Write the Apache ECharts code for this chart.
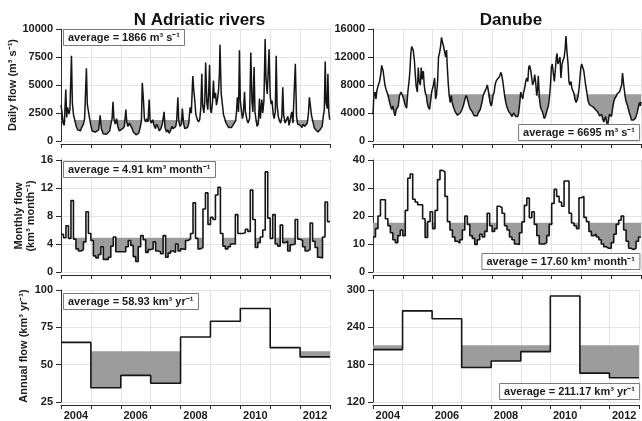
<!DOCTYPE html>
<html>
<head>
<meta charset="utf-8">
<script src="https://cdn.jsdelivr.net/npm/echarts@6/dist/echarts.min.js"></script>
<style>
html,body{margin:0;padding:0;background:#fff;}
#chart{width:642px;height:421px;}
</style>
</head>
<body>
<div id="chart"></div>
<script>
// ---------- DATA ----------
const years = [2004, 2005, 2006, 2007, 2008, 2009, 2010, 2011, 2012];

// Daily flow, N Adriatic rivers [decimal year, m3/s]
const adriaticDaily = [
[2004.00,3200],[2004.03,2600],[2004.07,1600],[2004.11,1400],[2004.16,4600],[2004.19,2100],[2004.22,3000],[2004.27,2400],[2004.30,2900],[2004.35,7600],[2004.38,3400],[2004.42,2300],[2004.47,1800],[2004.51,1300],[2004.56,1000],[2004.60,1100],[2004.65,900],[2004.69,1200],[2004.75,1500],[2004.79,2000],[2004.85,6500],[2004.88,3300],[2004.92,2600],[2004.95,2100],[2004.99,1500],
[2005.04,900],[2005.09,750],[2005.15,800],[2005.21,700],[2005.26,1000],[2005.31,2300],[2005.35,1100],[2005.41,650],[2005.46,550],[2005.52,600],[2005.57,550],[2005.63,900],[2005.67,1500],[2005.71,2000],[2005.74,3500],[2005.77,2000],[2005.82,1500],[2005.86,2000],[2005.91,1200],[2005.95,900],
[2006.01,1000],[2006.06,1100],[2006.12,1300],[2006.17,2800],[2006.20,1700],[2006.24,1300],[2006.29,1600],[2006.33,1500],[2006.38,1100],[2006.42,800],[2006.47,700],[2006.51,550],[2006.56,450],[2006.60,700],[2006.65,1200],[2006.69,1800],[2006.72,5200],[2006.76,3600],[2006.79,2000],[2006.83,1700],[2006.88,2000],[2006.91,1700],[2006.95,3700],[2006.98,1900],
[2007.02,1600],[2007.07,1900],[2007.11,1400],[2007.16,1100],[2007.20,1500],[2007.25,1200],[2007.29,900],[2007.34,1100],[2007.39,1500],[2007.45,2600],[2007.48,1200],[2007.53,800],[2007.57,1000],[2007.62,700],[2007.66,900],[2007.71,1300],[2007.75,1100],[2007.79,1000],[2007.84,1300],[2007.87,1800],[2007.91,3900],[2007.94,1800],[2007.98,1300],
[2008.03,1500],[2008.06,2900],[2008.10,1600],[2008.14,1100],[2008.19,1000],[2008.23,1200],[2008.27,1500],[2008.32,3000],[2008.36,2500],[2008.41,5800],[2008.44,4600],[2008.48,3500],[2008.51,2400],[2008.55,2000],[2008.60,1700],[2008.64,1900],[2008.68,3000],[2008.71,6000],[2008.74,3200],[2008.78,2500],[2008.81,3500],[2008.84,7000],[2008.88,3400],[2008.91,2800],[2008.94,4200],[2008.97,6800],
[2009.00,2800],[2009.03,2500],[2009.07,3500],[2009.10,5400],[2009.13,3800],[2009.17,4300],[2009.20,3200],[2009.23,3600],[2009.27,4500],[2009.30,6000],[2009.32,8600],[2009.36,4200],[2009.39,3500],[2009.44,2300],[2009.48,2000],[2009.52,1600],[2009.57,1400],[2009.61,1200],[2009.66,1300],[2009.70,1200],[2009.75,1400],[2009.79,1300],[2009.84,1800],[2009.87,2500],[2009.90,3900],[2009.94,2600],[2009.97,8100],
[2010.00,3600],[2010.04,2600],[2010.07,2000],[2010.10,2400],[2010.14,4400],[2010.17,2600],[2010.22,1900],[2010.26,1600],[2010.31,2000],[2010.35,7900],[2010.39,3500],[2010.42,2600],[2010.46,6600],[2010.49,2600],[2010.53,1800],[2010.56,1300],[2010.60,1500],[2010.64,3800],[2010.67,2000],[2010.72,3700],[2010.75,2500],[2010.79,3600],[2010.83,9100],[2010.86,5500],[2010.90,4200],[2010.93,6000],[2010.96,8200],
[2011.00,4000],[2011.03,3300],[2011.06,3600],[2011.10,2400],[2011.13,2000],[2011.17,2600],[2011.20,7600],[2011.23,3200],[2011.27,2200],[2011.31,1800],[2011.35,1600],[2011.39,2200],[2011.42,4800],[2011.45,2300],[2011.50,1600],[2011.54,1500],[2011.59,2200],[2011.63,1400],[2011.68,1300],[2011.72,2600],[2011.76,1600],[2011.80,1500],[2011.84,6900],[2011.88,2200],[2011.92,1500],[2011.97,1600],
[2012.01,1400],[2012.06,1200],[2012.10,1500],[2012.15,1300],[2012.19,1200],[2012.24,1600],[2012.28,2500],[2012.31,3900],[2012.35,3000],[2012.38,2300],[2012.43,1700],[2012.47,1200],[2012.52,1000],[2012.56,850],[2012.60,800],[2012.65,900],[2012.69,1100],[2012.74,1300],[2012.77,2100],[2012.81,2800],[2012.84,7100],[2012.87,3400],[2012.91,2900],[2012.93,6000],[2012.96,2600],[2012.99,1900]
];

// Daily flow, Danube [decimal year, m3/s]
const danubeDaily = [
[2004.00,3800],[2004.03,6500],[2004.07,7000],[2004.10,6000],[2004.13,7200],[2004.18,8000],[2004.22,8500],[2004.26,9500],[2004.29,10800],[2004.34,10000],[2004.37,9000],[2004.40,8000],[2004.45,7200],[2004.48,7000],[2004.51,6500],[2004.56,5500],[2004.59,5000],[2004.63,4500],[2004.67,5000],[2004.70,4200],[2004.74,3600],[2004.78,4500],[2004.82,4300],[2004.85,5000],[2004.89,6500],[2004.94,7000],[2004.98,6600],
[2005.03,6000],[2005.06,5500],[2005.09,5000],[2005.13,4700],[2005.17,7000],[2005.21,8500],[2005.24,10000],[2005.27,12500],[2005.30,13500],[2005.32,13300],[2005.35,13000],[2005.39,11500],[2005.42,9500],[2005.45,7800],[2005.49,7000],[2005.52,10500],[2005.55,8500],[2005.59,8000],[2005.62,10500],[2005.65,8800],[2005.69,10000],[2005.72,8000],[2005.75,7000],[2005.79,6500],[2005.82,5500],[2005.85,4900],[2005.90,4500],[2005.93,5500],[2005.97,7000],
[2006.00,7500],[2006.03,8000],[2006.07,9000],[2006.10,6000],[2006.13,6500],[2006.17,8500],[2006.20,12000],[2006.23,12500],[2006.27,13500],[2006.30,14800],[2006.34,14000],[2006.37,13500],[2006.40,13500],[2006.44,12000],[2006.47,13000],[2006.49,11000],[2006.53,8000],[2006.56,6500],[2006.59,5500],[2006.63,6500],[2006.66,5500],[2006.69,5000],[2006.73,4500],[2006.76,4200],[2006.79,4000],[2006.83,3700],[2006.86,3600],[2006.89,3800],[2006.93,4000],[2006.96,3800],[2006.99,4500],
[2007.03,5000],[2007.06,5500],[2007.09,6000],[2007.13,6500],[2007.16,6200],[2007.20,6000],[2007.23,5000],[2007.26,4600],[2007.30,4500],[2007.33,4200],[2007.36,4000],[2007.40,3600],[2007.43,3400],[2007.46,3500],[2007.50,3600],[2007.53,4000],[2007.56,4200],[2007.60,4500],[2007.63,5000],[2007.66,5500],[2007.70,6500],[2007.73,6800],[2007.77,7200],[2007.80,7500],[2007.84,8000],[2007.87,7800],[2007.90,6500],[2007.93,5500],[2007.97,5000],
[2008.00,5500],[2008.03,6500],[2008.07,7000],[2008.10,8000],[2008.13,8500],[2008.17,8800],[2008.20,9000],[2008.25,9200],[2008.29,9800],[2008.32,9500],[2008.36,8500],[2008.39,7500],[2008.42,6500],[2008.46,5500],[2008.49,5000],[2008.53,4500],[2008.56,4200],[2008.59,4000],[2008.63,3800],[2008.66,3500],[2008.69,3600],[2008.73,4000],[2008.76,3800],[2008.79,3500],[2008.83,3600],[2008.86,3500],[2008.89,4000],[2008.93,5500],[2008.96,7000],[2008.99,6500],
[2009.03,6000],[2009.06,7000],[2009.09,7500],[2009.13,8500],[2009.16,9000],[2009.20,8500],[2009.23,10500],[2009.26,10800],[2009.30,10000],[2009.33,9000],[2009.36,8000],[2009.40,8500],[2009.43,9500],[2009.46,8500],[2009.50,6500],[2009.53,7500],[2009.55,9300],[2009.59,6000],[2009.62,5000],[2009.65,4500],[2009.69,4200],[2009.72,4000],[2009.75,3200],[2009.79,3500],[2009.82,4000],[2009.85,4500],[2009.89,5000],[2009.92,6000],[2009.96,8000],[2009.99,10500],
[2010.02,11000],[2010.06,9500],[2010.09,8500],[2010.12,10000],[2010.16,12000],[2010.18,12500],[2010.21,11000],[2010.25,11500],[2010.28,12000],[2010.31,9000],[2010.35,11000],[2010.38,11500],[2010.42,12000],[2010.45,13000],[2010.48,15000],[2010.51,13000],[2010.55,11000],[2010.58,8500],[2010.61,8000],[2010.65,8500],[2010.68,7500],[2010.72,7500],[2010.75,6800],[2010.78,6000],[2010.82,5500],[2010.85,5800],[2010.88,6200],[2010.92,7500],[2010.95,9000],[2010.98,10500],
[2011.01,11000],[2011.04,10800],[2011.08,10000],[2011.11,9000],[2011.14,8000],[2011.18,7000],[2011.21,6000],[2011.24,5500],[2011.27,5200],[2011.31,5000],[2011.34,5000],[2011.37,5100],[2011.41,4800],[2011.44,4800],[2011.47,4500],[2011.51,4500],[2011.54,4200],[2011.58,4000],[2011.61,3600],[2011.64,3500],[2011.68,3800],[2011.71,3200],[2011.75,2700],[2011.78,3200],[2011.81,3500],[2011.85,2600],[2011.88,2300],[2011.91,3000],[2011.94,3800],[2011.98,4000],
[2012.01,3500],[2012.04,4500],[2012.08,5500],[2012.11,6000],[2012.15,6200],[2012.18,6500],[2012.21,6800],[2012.25,7000],[2012.28,7000],[2012.31,7200],[2012.35,8000],[2012.38,9700],[2012.42,8000],[2012.45,7000],[2012.48,6000],[2012.51,5500],[2012.55,5000],[2012.58,4500],[2012.61,4000],[2012.65,3500],[2012.68,3000],[2012.72,2800],[2012.75,3000],[2012.78,3200],[2012.82,3300],[2012.85,3500],[2012.88,4200],[2012.92,5000],[2012.95,5500],[2012.98,5000],[2013.00,5600]
];

// Monthly flow (km3/month), Jan 2004 .. Dec 2012
const adriaticMonthly = [
5.4,4.9,6.6,4.8,10.2,4.7,3.3,3.0,3.2,4.3,8.6,5.5,
4.5,2.3,2.0,2.5,3.6,1.8,1.8,2.1,3.7,5.0,2.9,2.9,
2.9,2.9,3.6,4.5,3.8,2.2,1.5,3.6,5.2,4.6,2.8,3.2,
3.3,4.3,3.0,2.9,2.6,5.2,2.1,2.7,3.0,2.8,4.0,3.0,
3.3,3.2,4.5,4.7,5.5,9.9,4.8,3.3,3.5,9.0,11.3,6.8,
7.8,7.5,11.0,12.1,5.5,3.7,3.3,3.6,4.0,4.0,8.2,5.5,
5.5,5.6,6.1,5.8,11.7,7.5,3.5,4.2,5.0,6.0,14.3,7.7,
4.8,8.2,4.0,3.7,6.7,4.2,4.4,3.0,3.9,4.0,7.5,4.7,
4.5,3.6,3.0,3.2,7.0,4.4,3.5,2.1,2.0,5.0,10.0,7.2
];
const danubeMonthly = [
12.5,15.5,20.0,25.8,25.8,19.0,16.5,14.0,11.5,10.5,13.0,15.0,
13.0,22.0,33.5,35.0,26.0,25.0,24.0,24.0,19.0,12.3,18.0,21.5,
15.5,22.0,33.0,36.3,35.8,27.0,18.0,15.0,12.5,11.0,10.3,11.5,
15.0,20.0,17.0,13.0,12.0,9.8,11.5,13.5,12.5,14.5,21.0,16.5,
14.5,15.5,23.5,23.0,21.0,16.5,15.0,12.5,11.5,10.0,9.8,14.0,
17.9,23.8,26.4,19.4,21.5,17.0,13.0,10.0,10.0,10.5,13.0,17.0,
24.5,29.5,27.0,25.0,23.5,32.5,32.5,21.0,17.5,16.5,15.5,26.5,
27.0,19.5,18.0,14.5,13.0,13.5,12.5,11.5,10.0,9.0,8.5,8.5,
10.5,13.5,17.0,18.5,20.0,15.0,11.0,8.5,8.0,8.5,11.0,12.5
];

// Annual flow (km3/yr)
const adriaticAnnual = [64.9, 34.5, 42.8, 37.6, 68.5, 79.1, 87.6, 61.4, 55.2];
const danubeAnnual = [204.2, 266.5, 253.7, 175.4, 186.0, 201.0, 290.4, 166.4, 158.9];

// Long-term averages (from the legends)
const averages = {
  adriaticDaily: 1866, danubeDaily: 6695,
  adriaticMonthly: 4.91, danubeMonthly: 17.60,
  adriaticAnnual: 58.93, danubeAnnual: 211.17
};

// Tick / axis settings
const xTickYears = [2004, 2013];
const yScales = [
  [{min:0, max:10000, interval:2500}, {min:0, max:16000, interval:4000}],
  [{min:0, max:16, interval:4},       {min:0, max:40, interval:10}],
  [{min:25, max:100, interval:25},    {min:120, max:300, interval:60}]
];
const columnTitles = ['N Adriatic rivers', 'Danube'];
const rowNames = ['Daily flow (m³ s⁻¹)', 'Monthly flow\n(km³ month⁻¹)', 'Annual flow (km³ yr⁻¹)'];
const legendTexts = [
  ['average = 1866 m³ s⁻¹', 'average = 6695 m³ s⁻¹'],
  ['average = 4.91 km³ month⁻¹', 'average = 17.60 km³ month⁻¹'],
  ['average = 58.93 km³ yr⁻¹', 'average = 211.17 km³ yr⁻¹']
];

// ---------- BUILD ----------
const FONT = '"Liberation Sans", Arial, Helvetica, sans-serif';
const TXT = '#1c1c1c';
const AX = '#2a2a2a';
const GRIDLINE = '#e4e4e4';
const FILL = '#9c9c9c';

function stepSeries(values, startYear, perYear) {
  const out = values.map((v, i) => [startYear + i / perYear, v]);
  out.push([startYear + values.length / perYear, values[values.length - 1]]);
  return out;
}

const panelData = [
  [adriaticDaily, danubeDaily],
  [stepSeries(adriaticMonthly, years[0], 12), stepSeries(danubeMonthly, years[0], 12)],
  [stepSeries(adriaticAnnual, years[0], 1), stepSeries(danubeAnnual, years[0], 1)]
];
const panelAvg = [
  [averages.adriaticDaily, averages.danubeDaily],
  [averages.adriaticMonthly, averages.danubeMonthly],
  [averages.adriaticAnnual, averages.danubeAnnual]
];
const panelStep = [false, 'end', 'end'];

const cols = [{left: 61, width: 269}, {left: 373, width: 268}];
const rows = [{top: 29, height: 112}, {top: 160, height: 112}, {top: 290, height: 112.5}];
const nameGaps = [26, 22, 31];
const legendPos = [
  [{left: 63, top: 29}, {right: 2, top: 124}],
  [{left: 63, top: 161}, {right: 2, top: 253}],
  [{left: 63, top: 293}, {right: 2, top: 383}]
];

const grid = [], xAxis = [], yAxis = [], series = [], title = [];

columnTitles.forEach((t, c) => {
  title.push({
    text: t, left: cols[c].left + cols[c].width / 2 - 1, top: 7, textAlign: 'center',
    textStyle: {fontFamily: FONT, fontSize: 17, fontWeight: 'bold', color: '#111'}
  });
});

rows.forEach((r, ri) => {
  cols.forEach((c, ci) => {
    const g = grid.length;
    grid.push({left: c.left, top: r.top, width: c.width, height: r.height, containLabel: false});
    xAxis.push({
      gridIndex: g, type: 'value', min: xTickYears[0], max: xTickYears[1], interval: 1,
      position: 'bottom', offset: 3,
      axisLine: {show: true, onZero: false, lineStyle: {color: AX, width: 1}},
      axisTick: {show: true, length: 4, lineStyle: {color: AX}},
      axisLabel: {show: false},
      splitLine: {show: true, lineStyle: {color: GRIDLINE, width: 1}}
    });
    const ys = yScales[ri][ci];
    const yA = {
      gridIndex: g, type: 'value', min: ys.min, max: ys.max, interval: ys.interval,
      axisLine: {show: true, lineStyle: {color: AX, width: 1}},
      axisTick: {show: true, length: 5, lineStyle: {color: AX}},
      axisLabel: {fontFamily: FONT, fontWeight: 'bold', fontSize: 11, color: TXT, margin: 8,
                  formatter: v => String(v)},
      splitLine: {show: true, lineStyle: {color: GRIDLINE, width: 1}}
    };
    if (ci === 0) {
      Object.assign(yA, {
        name: rowNames[ri], nameLocation: 'middle', nameRotate: 90, nameGap: nameGaps[ri],
        nameTextStyle: {fontFamily: FONT, fontWeight: 'bold', fontSize: 11, color: TXT, lineHeight: 12}
      });
    }
    yAxis.push(yA);

    const data = panelData[ri][ci];
    const avg = panelAvg[ri][ci];
    series.push({
      type: 'line', xAxisIndex: g, yAxisIndex: g, step: panelStep[ri],
      data: data.map(p => [p[0], Math.min(p[1], avg)]),
      symbol: 'none', showSymbol: false, silent: true,
      lineStyle: {width: 0, opacity: 0},
      areaStyle: {origin: avg, color: FILL, opacity: 1},
      z: 2
    });
    series.push({
      type: 'line', xAxisIndex: g, yAxisIndex: g, step: panelStep[ri],
      data: data, symbol: 'none', showSymbol: false, silent: true,
      lineStyle: {color: '#151515', width: ri === 0 ? 1.5 : 1.6},
      z: 3
    });

    const lp = legendPos[ri][ci];
    title.push(Object.assign({
      text: legendTexts[ri][ci],
      padding: [2, 5, 2, 5],
      borderColor: '#7a7a7a', borderWidth: 1, backgroundColor: '#ffffff',
      textStyle: {fontFamily: FONT, fontWeight: 'bold', fontSize: 11, color: TXT, lineHeight: 13},
      z: 10
    }, lp));
  });
});

// Year labels centred on each year, bottom row only
[4, 5].forEach(g => {
  xAxis.push({
    gridIndex: g, type: 'value', min: xTickYears[0] - 0.5, max: xTickYears[1] - 0.5, interval: 0.5,
    position: 'bottom', offset: 3,
    axisLine: {show: false}, axisTick: {show: false}, splitLine: {show: false},
    axisLabel: {
      show: true, margin: 5, fontFamily: FONT, fontWeight: 'bold', fontSize: 11, color: TXT,
      formatter: v => (Math.abs(v % 2) < 1e-9 && years.indexOf(v) >= 0) ? String(v) : ''
    }
  });
});

const chart = echarts.init(document.getElementById('chart'), null, {renderer: 'canvas'});
chart.setOption({
  animation: false,
  backgroundColor: '#ffffff',
  title, grid, xAxis, yAxis, series
});
</script>
</body>
</html>
